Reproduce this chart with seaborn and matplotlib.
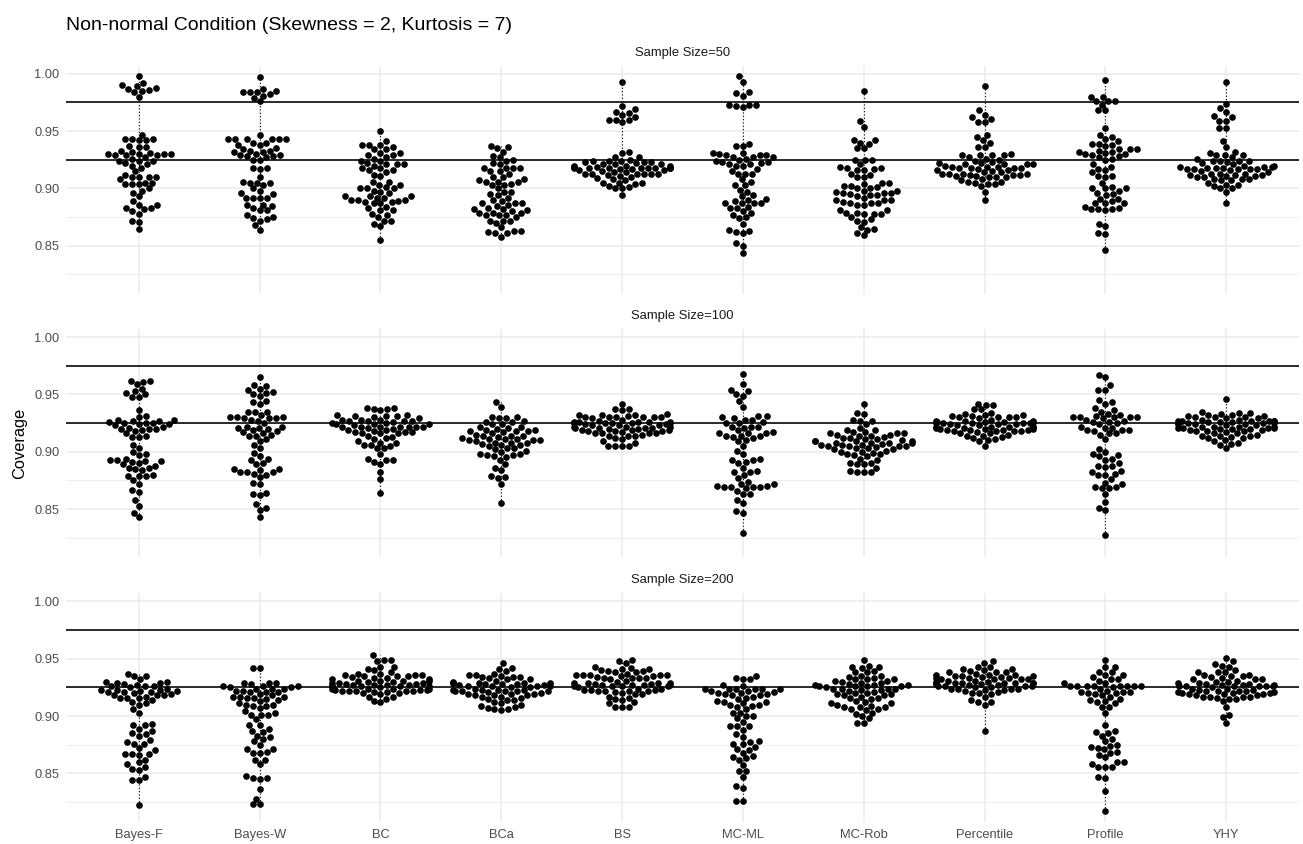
import warnings
import numpy as np
import pandas as pd
import seaborn as sns
import matplotlib.pyplot as plt

warnings.filterwarnings("ignore")

# ------------------------------- categories -------------------------------- #
methods = ["Bayes-F", "Bayes-W", "BC", "BCa", "BS", "MC-ML", "MC-Rob", "Percentile", "Profile", "YHY"]
sample_sizes = [50, 100, 200]
ref_lines = [0.925, 0.975]
y_ticks = [0.85, 0.90, 0.95, 1.00]
y_minor = [0.825, 0.875, 0.925, 0.975]

# ---------------------------- Sample Size = 50 ----------------------------- #
n50_bayes_f = [0.998, 0.986, 0.989, 0.990, 0.992, 0.984, 0.985, 0.980, 0.988, 0.987,
               0.947, 0.943, 0.943, 0.942, 0.942, 0.943, 0.937, 0.936, 0.936, 0.930, 0.931, 0.929, 0.930,
               0.932, 0.933, 0.930, 0.930, 0.929, 0.929, 0.924, 0.921, 0.924, 0.924, 0.927, 0.922, 0.920,
               0.918, 0.926, 0.915, 0.910, 0.910, 0.910, 0.904, 0.905, 0.905, 0.904, 0.908, 0.910, 0.904,
               0.912, 0.896, 0.900, 0.893, 0.889, 0.886, 0.882, 0.880, 0.883, 0.883, 0.886, 0.878, 0.872,
               0.871, 0.865, 0.898]
n50_bayes_w = [0.997, 0.979, 0.984, 0.985, 0.984, 0.982, 0.987, 0.984, 0.981, 0.976,
               0.947, 0.943, 0.943, 0.943, 0.943, 0.943, 0.943, 0.940, 0.938, 0.940, 0.938, 0.933, 0.932,
               0.934, 0.933, 0.935, 0.932, 0.927, 0.929, 0.928, 0.930, 0.925, 0.928, 0.929, 0.925, 0.918,
               0.917, 0.918, 0.910, 0.905, 0.906, 0.905, 0.905, 0.903, 0.900, 0.896, 0.895, 0.898, 0.892,
               0.892, 0.892, 0.892, 0.886, 0.885, 0.886, 0.883, 0.881, 0.881, 0.875, 0.873, 0.877, 0.874,
               0.872, 0.868, 0.864]
n50_bc = [0.950, 0.941, 0.938, 0.938, 0.936, 0.938, 0.934, 0.934, 0.931, 0.929, 0.924, 0.927, 0.920,
          0.922, 0.924, 0.921, 0.921, 0.929, 0.931, 0.918, 0.921, 0.916, 0.916, 0.906, 0.903, 0.900,
          0.901, 0.906, 0.900, 0.900, 0.903, 0.892, 0.893, 0.889, 0.893, 0.887, 0.888, 0.890, 0.897,
          0.888, 0.887, 0.890, 0.883, 0.881, 0.898, 0.892, 0.890, 0.893, 0.881, 0.878, 0.877, 0.875,
          0.867, 0.872, 0.869, 0.872, 0.855, 0.912, 0.918, 0.914, 0.896, 0.884, 0.911, 0.926]
n50_bca = [0.936, 0.937, 0.932, 0.935, 0.928, 0.927, 0.925, 0.922, 0.921, 0.918, 0.918, 0.915, 0.918,
           0.918, 0.915, 0.908, 0.910, 0.903, 0.906, 0.906, 0.906, 0.903, 0.910, 0.907, 0.904, 0.897,
           0.897, 0.890, 0.892, 0.882, 0.879, 0.875, 0.887, 0.885, 0.886, 0.877, 0.877, 0.877, 0.883,
           0.881, 0.887, 0.879, 0.879, 0.887, 0.880, 0.872, 0.870, 0.862, 0.863, 0.863, 0.861, 0.861,
           0.858, 0.872, 0.872, 0.866, 0.882, 0.895, 0.894, 0.900, 0.913, 0.924, 0.889]
n50_bs = [0.993, 0.972, 0.969, 0.967, 0.964, 0.958, 0.960, 0.960, 0.960, 0.966, 0.962,
          0.932, 0.931, 0.927, 0.927, 0.924, 0.925, 0.924, 0.924, 0.923, 0.923, 0.921, 0.923, 0.918,
          0.918, 0.918, 0.918, 0.918, 0.918, 0.918, 0.918, 0.917, 0.914, 0.913, 0.913, 0.913, 0.913,
          0.913, 0.913, 0.908, 0.910, 0.904, 0.905, 0.905, 0.905, 0.900, 0.900, 0.901, 0.894, 0.916,
          0.916, 0.919, 0.921, 0.920, 0.920, 0.922, 0.915, 0.912, 0.911, 0.917, 0.919, 0.914, 0.920,
          0.921, 0.909, 0.907, 0.902]
n50_mc_ml = [0.998, 0.993, 0.981, 0.983, 0.984, 0.973, 0.971, 0.973, 0.972, 0.973,
             0.939, 0.937, 0.937, 0.929, 0.927, 0.922, 0.927, 0.927, 0.929, 0.929, 0.931, 0.931, 0.930,
             0.921, 0.921, 0.925, 0.924, 0.920, 0.923, 0.923, 0.920, 0.913, 0.913, 0.917, 0.913, 0.903,
             0.897, 0.903, 0.906, 0.893, 0.894, 0.890, 0.887, 0.887, 0.884, 0.883, 0.883, 0.889, 0.887,
             0.891, 0.887, 0.879, 0.880, 0.874, 0.877, 0.875, 0.869, 0.863, 0.861, 0.864, 0.862, 0.850,
             0.852, 0.844, 0.915, 0.908, 0.899, 0.926]
n50_mc_rob = [0.985, 0.959, 0.954, 0.942, 0.940, 0.939, 0.935, 0.935, 0.925, 0.925, 0.925, 0.921, 0.918,
              0.918, 0.912, 0.916, 0.910, 0.913, 0.901, 0.896, 0.900, 0.894, 0.904, 0.898, 0.902, 0.896,
              0.896, 0.897, 0.886, 0.887, 0.888, 0.890, 0.887, 0.879, 0.879, 0.881, 0.878, 0.881, 0.875,
              0.871, 0.872, 0.866, 0.864, 0.861, 0.859, 0.886, 0.893, 0.942, 0.916, 0.910, 0.917, 0.919,
              0.905, 0.902, 0.895, 0.905, 0.898, 0.892, 0.900, 0.890, 0.887, 0.890, 0.878, 0.878, 0.873,
              0.865, 0.894]
n50_percentile = [0.989, 0.968, 0.964, 0.962, 0.961, 0.958, 0.958, 0.947, 0.945, 0.942, 0.940, 0.936,
                  0.936, 0.929, 0.929, 0.927, 0.929, 0.930, 0.929, 0.921, 0.921, 0.918, 0.918, 0.921,
                  0.921, 0.922, 0.925, 0.926, 0.919, 0.918, 0.918, 0.922, 0.919, 0.916, 0.910, 0.912,
                  0.914, 0.914, 0.913, 0.916, 0.913, 0.911, 0.913, 0.912, 0.911, 0.913, 0.910, 0.906,
                  0.910, 0.904, 0.906, 0.905, 0.904, 0.907, 0.897, 0.890, 0.912, 0.917, 0.915, 0.920,
                  0.923, 0.919, 0.908, 0.902, 0.924]
n50_profile = [0.995, 0.980, 0.980, 0.976, 0.976, 0.976, 0.973, 0.968, 0.968, 0.953, 0.945, 0.947, 0.934,
               0.938, 0.931, 0.941, 0.932, 0.934, 0.930, 0.932, 0.933, 0.929, 0.939, 0.943, 0.939, 0.930,
               0.937, 0.934, 0.927, 0.925, 0.926, 0.917, 0.916, 0.919, 0.910, 0.911, 0.911, 0.901, 0.896,
               0.900, 0.900, 0.900, 0.898, 0.891, 0.894, 0.895, 0.891, 0.887, 0.887, 0.887, 0.882, 0.881,
               0.882, 0.884, 0.883, 0.882, 0.867, 0.869, 0.860, 0.861, 0.846, 0.921, 0.905, 0.889, 0.928,
               0.914]
n50_yhy = [0.993, 0.974, 0.970, 0.967, 0.963, 0.962, 0.959, 0.959, 0.953, 0.953, 0.941, 0.936, 0.932,
           0.929, 0.929, 0.931, 0.929, 0.924, 0.922, 0.924, 0.927, 0.924, 0.923, 0.924, 0.918, 0.920,
           0.917, 0.918, 0.917, 0.919, 0.917, 0.917, 0.918, 0.917, 0.919, 0.913, 0.912, 0.913, 0.910,
           0.912, 0.913, 0.912, 0.911, 0.907, 0.908, 0.910, 0.908, 0.908, 0.907, 0.903, 0.903, 0.900,
           0.897, 0.902, 0.900, 0.887, 0.921, 0.916, 0.915, 0.920, 0.914, 0.926, 0.905, 0.911, 0.919]

# ---------------------------- Sample Size = 100 ---------------------------- #
n100_bayes_f = [0.961, 0.962, 0.962, 0.955, 0.959, 0.953, 0.948, 0.948, 0.951, 0.950, 0.936, 0.930,
                0.924, 0.926, 0.920, 0.927, 0.928, 0.914, 0.920, 0.918, 0.925, 0.923, 0.924, 0.921,
                0.928, 0.925, 0.922, 0.919, 0.925, 0.913, 0.927, 0.920, 0.913, 0.906, 0.903, 0.894,
                0.898, 0.893, 0.892, 0.897, 0.886, 0.886, 0.889, 0.880, 0.875, 0.879, 0.885, 0.884,
                0.892, 0.879, 0.879, 0.890, 0.891, 0.893, 0.872, 0.865, 0.867, 0.858, 0.853, 0.847,
                0.843, 0.931, 0.916, 0.900, 0.888]
n100_bayes_w = [0.965, 0.957, 0.955, 0.958, 0.954, 0.949, 0.951, 0.950, 0.952, 0.944, 0.942, 0.943,
                0.935, 0.935, 0.916, 0.929, 0.930, 0.921, 0.922, 0.928, 0.929, 0.930, 0.925, 0.929,
                0.932, 0.927, 0.935, 0.930, 0.921, 0.918, 0.922, 0.919, 0.920, 0.915, 0.914, 0.914,
                0.906, 0.903, 0.909, 0.899, 0.894, 0.890, 0.893, 0.889, 0.882, 0.884, 0.882, 0.885,
                0.880, 0.885, 0.882, 0.881, 0.873, 0.872, 0.863, 0.862, 0.864, 0.854, 0.849, 0.851,
                0.843, 0.917, 0.896, 0.878, 0.911]
n100_bc = [0.938, 0.938, 0.937, 0.937, 0.936, 0.932, 0.932, 0.931, 0.931, 0.931, 0.928, 0.927, 0.927,
           0.928, 0.927, 0.930, 0.928, 0.922, 0.923, 0.922, 0.922, 0.922, 0.922, 0.922, 0.924, 0.924,
           0.925, 0.924, 0.917, 0.922, 0.919, 0.916, 0.916, 0.917, 0.917, 0.916, 0.918, 0.912, 0.911,
           0.909, 0.908, 0.906, 0.906, 0.908, 0.903, 0.903, 0.894, 0.893, 0.893, 0.898, 0.889, 0.891,
           0.876, 0.882, 0.864, 0.914, 0.927, 0.905, 0.920, 0.926, 0.921, 0.925, 0.919, 0.913, 0.929]
n100_bca = [0.943, 0.939, 0.926, 0.922, 0.927, 0.929, 0.930, 0.929, 0.924, 0.926, 0.930, 0.924, 0.922,
            0.920, 0.914, 0.908, 0.905, 0.900, 0.919, 0.914, 0.918, 0.911, 0.903, 0.911, 0.908, 0.910,
            0.907, 0.906, 0.911, 0.916, 0.909, 0.910, 0.917, 0.914, 0.908, 0.903, 0.896, 0.901, 0.893,
            0.897, 0.897, 0.898, 0.898, 0.884, 0.878, 0.877, 0.879, 0.872, 0.886, 0.855, 0.918, 0.918,
            0.915, 0.921, 0.902, 0.912, 0.906, 0.919, 0.889, 0.910, 0.895, 0.913]
n100_bs = [0.942, 0.936, 0.937, 0.937, 0.933, 0.930, 0.932, 0.930, 0.931, 0.930, 0.930, 0.932, 0.930,
           0.930, 0.932, 0.929, 0.919, 0.916, 0.919, 0.922, 0.925, 0.925, 0.926, 0.923, 0.925, 0.924,
           0.925, 0.922, 0.923, 0.925, 0.921, 0.921, 0.916, 0.918, 0.918, 0.920, 0.916, 0.919, 0.916,
           0.915, 0.917, 0.911, 0.908, 0.909, 0.905, 0.905, 0.905, 0.905, 0.914, 0.921, 0.921, 0.926,
           0.918, 0.914, 0.914, 0.912, 0.926, 0.922, 0.926, 0.926, 0.928, 0.927, 0.924, 0.923, 0.920]
n100_mc_ml = [0.968, 0.959, 0.953, 0.950, 0.954, 0.949, 0.944, 0.939, 0.931, 0.931, 0.925, 0.922, 0.922,
              0.929, 0.928, 0.925, 0.926, 0.930, 0.928, 0.919, 0.922, 0.916, 0.912, 0.916, 0.914, 0.913,
              0.917, 0.914, 0.909, 0.916, 0.914, 0.905, 0.901, 0.891, 0.894, 0.893, 0.893, 0.890, 0.883,
              0.880, 0.882, 0.882, 0.872, 0.869, 0.870, 0.863, 0.869, 0.870, 0.868, 0.874, 0.863, 0.869,
              0.869, 0.866, 0.872, 0.858, 0.855, 0.847, 0.848, 0.829, 0.921, 0.898, 0.910, 0.886, 0.877]
n100_mc_rob = [0.942, 0.933, 0.927, 0.927, 0.919, 0.916, 0.917, 0.914, 0.906, 0.917, 0.908, 0.908, 0.905,
               0.900, 0.899, 0.905, 0.903, 0.906, 0.914, 0.908, 0.909, 0.902, 0.890, 0.889, 0.886, 0.882,
               0.882, 0.883, 0.882, 0.912, 0.909, 0.916, 0.916, 0.915, 0.909, 0.908, 0.905, 0.901, 0.898,
               0.909, 0.902, 0.896, 0.900, 0.919, 0.934, 0.928, 0.905, 0.890, 0.889, 0.911, 0.913, 0.907,
               0.904, 0.910, 0.912, 0.903, 0.898, 0.894, 0.921, 0.924, 0.911, 0.906, 0.893, 0.897, 0.915]
n100_percentile = [0.942, 0.941, 0.941, 0.937, 0.937, 0.932, 0.930, 0.930, 0.931, 0.930, 0.932, 0.930,
                   0.926, 0.925, 0.927, 0.927, 0.925, 0.926, 0.926, 0.925, 0.926, 0.927, 0.925, 0.919,
                   0.922, 0.918, 0.919, 0.920, 0.921, 0.922, 0.919, 0.920, 0.922, 0.914, 0.909, 0.905,
                   0.914, 0.911, 0.912, 0.916, 0.918, 0.924, 0.922, 0.922, 0.925, 0.924, 0.916, 0.918,
                   0.933, 0.923, 0.921, 0.919, 0.917, 0.920, 0.924, 0.928, 0.929, 0.926, 0.923, 0.913,
                   0.915, 0.910, 0.931, 0.934, 0.918]
n100_profile = [0.967, 0.965, 0.958, 0.954, 0.954, 0.945, 0.943, 0.938, 0.942, 0.935, 0.932, 0.936,
                0.930, 0.926, 0.930, 0.926, 0.928, 0.931, 0.930, 0.930, 0.930, 0.929, 0.924, 0.927,
                0.919, 0.921, 0.922, 0.919, 0.919, 0.916, 0.916, 0.918, 0.911, 0.902, 0.898, 0.897,
                0.893, 0.896, 0.890, 0.887, 0.888, 0.883, 0.881, 0.882, 0.888, 0.880, 0.880, 0.869,
                0.868, 0.872, 0.868, 0.869, 0.873, 0.863, 0.856, 0.849, 0.851, 0.827, 0.925, 0.921,
                0.894, 0.876, 0.915, 0.900, 0.933]
n100_yhy = [0.946, 0.935, 0.934, 0.934, 0.932, 0.932, 0.930, 0.931, 0.930, 0.930, 0.929, 0.927, 0.927,
            0.925, 0.928, 0.926, 0.927, 0.926, 0.927, 0.925, 0.925, 0.927, 0.924, 0.922, 0.918, 0.921,
            0.920, 0.922, 0.921, 0.920, 0.922, 0.921, 0.919, 0.918, 0.914, 0.915, 0.912, 0.916, 0.912,
            0.914, 0.914, 0.908, 0.907, 0.903, 0.906, 0.925, 0.924, 0.923, 0.923, 0.922, 0.921, 0.920,
            0.919, 0.918, 0.917, 0.928, 0.929, 0.926, 0.924, 0.916, 0.913, 0.910, 0.909, 0.931, 0.927,
            0.933]

# ---------------------------- Sample Size = 200 ---------------------------- #
n200_bayes_f = [0.937, 0.935, 0.935, 0.930, 0.932, 0.929, 0.929, 0.926, 0.926, 0.926, 0.927, 0.930,
                0.921, 0.918, 0.918, 0.918, 0.916, 0.923, 0.921, 0.922, 0.916, 0.923, 0.922, 0.916,
                0.921, 0.923, 0.924, 0.919, 0.917, 0.911, 0.914, 0.910, 0.912, 0.906, 0.903, 0.892,
                0.892, 0.893, 0.887, 0.884, 0.885, 0.883, 0.879, 0.877, 0.876, 0.876, 0.872, 0.867,
                0.867, 0.867, 0.866, 0.862, 0.860, 0.856, 0.858, 0.854, 0.853, 0.847, 0.844, 0.844,
                0.822, 0.925, 0.920, 0.928, 0.889, 0.870]
n200_bayes_w = [0.942, 0.942, 0.926, 0.924, 0.928, 0.929, 0.924, 0.925, 0.926, 0.929, 0.929, 0.926,
                0.925, 0.921, 0.921, 0.924, 0.922, 0.922, 0.921, 0.917, 0.911, 0.916, 0.909, 0.917,
                0.919, 0.915, 0.917, 0.914, 0.916, 0.910, 0.909, 0.910, 0.907, 0.901, 0.901, 0.901,
                0.904, 0.897, 0.892, 0.892, 0.886, 0.883, 0.882, 0.887, 0.878, 0.875, 0.871, 0.869,
                0.868, 0.871, 0.868, 0.862, 0.862, 0.858, 0.846, 0.846, 0.848, 0.845, 0.836, 0.828,
                0.823, 0.823, 0.918, 0.913, 0.889, 0.880, 0.903]
n200_bc = [0.953, 0.948, 0.949, 0.949, 0.943, 0.943, 0.940, 0.941, 0.937, 0.936, 0.938, 0.936, 0.935,
           0.936, 0.937, 0.935, 0.932, 0.933, 0.935, 0.933, 0.932, 0.931, 0.931, 0.929, 0.924, 0.927,
           0.926, 0.926, 0.928, 0.927, 0.926, 0.926, 0.927, 0.926, 0.924, 0.929, 0.922, 0.923, 0.922,
           0.922, 0.922, 0.922, 0.921, 0.920, 0.917, 0.919, 0.915, 0.913, 0.912, 0.917, 0.920, 0.923,
           0.930, 0.931, 0.930, 0.923, 0.924, 0.934, 0.929, 0.927, 0.925, 0.924, 0.921, 0.928, 0.931]
n200_bca = [0.946, 0.941, 0.942, 0.939, 0.936, 0.936, 0.934, 0.932, 0.935, 0.932, 0.934, 0.937, 0.934,
            0.931, 0.929, 0.929, 0.925, 0.927, 0.928, 0.926, 0.929, 0.929, 0.929, 0.926, 0.926, 0.928,
            0.926, 0.923, 0.923, 0.923, 0.922, 0.922, 0.922, 0.923, 0.922, 0.922, 0.918, 0.919, 0.916,
            0.918, 0.919, 0.914, 0.917, 0.918, 0.917, 0.911, 0.910, 0.907, 0.906, 0.908, 0.906, 0.905,
            0.909, 0.914, 0.930, 0.924, 0.921, 0.920, 0.927, 0.915, 0.912, 0.933, 0.925, 0.919, 0.928]
n200_bs = [0.949, 0.948, 0.946, 0.942, 0.943, 0.940, 0.939, 0.938, 0.941, 0.941, 0.938, 0.936, 0.935,
           0.933, 0.936, 0.936, 0.933, 0.935, 0.932, 0.936, 0.936, 0.933, 0.928, 0.926, 0.929, 0.926,
           0.928, 0.926, 0.929, 0.927, 0.929, 0.927, 0.929, 0.926, 0.927, 0.933, 0.923, 0.922, 0.922,
           0.923, 0.922, 0.924, 0.923, 0.922, 0.919, 0.916, 0.914, 0.915, 0.919, 0.911, 0.908, 0.908,
           0.908, 0.920, 0.931, 0.930, 0.925, 0.924, 0.921, 0.927, 0.934, 0.937, 0.917, 0.912, 0.939]
n200_mc_ml = [0.932, 0.933, 0.935, 0.932, 0.917, 0.924, 0.924, 0.927, 0.922, 0.919, 0.924, 0.920, 0.919,
              0.926, 0.924, 0.924, 0.922, 0.924, 0.916, 0.920, 0.911, 0.912, 0.915, 0.913, 0.912, 0.910,
              0.910, 0.908, 0.918, 0.903, 0.900, 0.903, 0.900, 0.895, 0.891, 0.891, 0.891, 0.884, 0.882,
              0.878, 0.877, 0.876, 0.876, 0.871, 0.870, 0.865, 0.868, 0.863, 0.862, 0.864, 0.852, 0.852,
              0.847, 0.839, 0.837, 0.826, 0.826, 0.898, 0.921, 0.918, 0.909, 0.906, 0.888, 0.873, 0.857]
n200_mc_rob = [0.949, 0.944, 0.943, 0.938, 0.938, 0.935, 0.942, 0.932, 0.931, 0.922, 0.926, 0.924, 0.927,
               0.926, 0.929, 0.930, 0.931, 0.927, 0.926, 0.920, 0.916, 0.908, 0.911, 0.906, 0.903, 0.909,
               0.916, 0.919, 0.908, 0.898, 0.894, 0.917, 0.939, 0.932, 0.927, 0.932, 0.923, 0.935, 0.924,
               0.924, 0.918, 0.911, 0.919, 0.908, 0.906, 0.900, 0.894, 0.943, 0.934, 0.925, 0.921, 0.928,
               0.913, 0.915, 0.920, 0.923, 0.910, 0.933, 0.929, 0.918, 0.905, 0.926, 0.902, 0.912, 0.924]
n200_percentile = [0.948, 0.946, 0.943, 0.943, 0.941, 0.941, 0.939, 0.938, 0.938, 0.936, 0.936, 0.938,
                   0.935, 0.934, 0.935, 0.933, 0.932, 0.933, 0.935, 0.932, 0.932, 0.932, 0.929, 0.929,
                   0.929, 0.929, 0.929, 0.929, 0.929, 0.924, 0.923, 0.926, 0.924, 0.924, 0.925, 0.924,
                   0.926, 0.927, 0.920, 0.922, 0.920, 0.921, 0.917, 0.912, 0.910, 0.914, 0.912, 0.887,
                   0.926, 0.930, 0.931, 0.933, 0.928, 0.927, 0.925, 0.930, 0.936, 0.934, 0.931, 0.926,
                   0.919, 0.937, 0.940, 0.928, 0.923]
n200_profile = [0.949, 0.943, 0.943, 0.936, 0.936, 0.938, 0.938, 0.932, 0.934, 0.932, 0.926, 0.929,
                0.926, 0.926, 0.925, 0.926, 0.926, 0.926, 0.926, 0.919, 0.921, 0.917, 0.920, 0.922,
                0.921, 0.921, 0.920, 0.914, 0.908, 0.911, 0.912, 0.913, 0.915, 0.908, 0.903, 0.929,
                0.926, 0.892, 0.887, 0.885, 0.886, 0.880, 0.878, 0.875, 0.874, 0.871, 0.873, 0.869,
                0.872, 0.866, 0.860, 0.858, 0.864, 0.860, 0.856, 0.856, 0.856, 0.847, 0.846, 0.835,
                0.817, 0.924, 0.918, 0.931, 0.883, 0.868]
n200_yhy = [0.951, 0.948, 0.945, 0.944, 0.943, 0.938, 0.936, 0.938, 0.936, 0.938, 0.932, 0.935, 0.932,
            0.930, 0.932, 0.931, 0.934, 0.926, 0.926, 0.926, 0.926, 0.927, 0.929, 0.927, 0.926, 0.928,
            0.917, 0.920, 0.919, 0.917, 0.922, 0.921, 0.919, 0.922, 0.920, 0.922, 0.917, 0.918, 0.923,
            0.919, 0.915, 0.915, 0.908, 0.901, 0.899, 0.894, 0.917, 0.924, 0.922, 0.925, 0.924, 0.923,
            0.921, 0.920, 0.929, 0.930, 0.928, 0.933, 0.916, 0.940, 0.927, 0.918, 0.913, 0.935, 0.926]

panel_50 = [n50_bayes_f, n50_bayes_w, n50_bc, n50_bca, n50_bs, n50_mc_ml, n50_mc_rob, n50_percentile, n50_profile, n50_yhy]
panel_100 = [n100_bayes_f, n100_bayes_w, n100_bc, n100_bca, n100_bs, n100_mc_ml, n100_mc_rob, n100_percentile, n100_profile, n100_yhy]
panel_200 = [n200_bayes_f, n200_bayes_w, n200_bc, n200_bca, n200_bs, n200_mc_ml, n200_mc_rob, n200_percentile, n200_profile, n200_yhy]


def build_df():
    rows = []
    for n, panel in zip(sample_sizes, [panel_50, panel_100, panel_200]):
        for method, values in zip(methods, panel):
            for v in values:
                rows.append({"n": n, "method": method, "Coverage": v})
    return pd.DataFrame(rows)


df = build_df()

# ------------------------------- style ------------------------------------- #
sns.set_theme(style="white")
plt.rcParams["font.family"] = ["Liberation Sans", "DejaVu Sans"]

W, H = 1303, 844
fig = plt.figure(figsize=(W / 100, H / 100), dpi=100)

# panel boxes in pixels
px_left, px_right = 66.4, 1298.6
panel_tops = [65.7, 329.0, 593.3]
panel_h = 228.3

# ggplot-like 5% expansion of the shared y scale
lo, hi = df["Coverage"].min(), df["Coverage"].max()
pad = (hi - lo) * 0.05
ylim = (lo - pad, hi + pad)

for i, n in enumerate(sample_sizes):
    top = panel_tops[i]
    ax = fig.add_axes([px_left / W, 1 - (top + panel_h) / H, (px_right - px_left) / W, panel_h / H])
    sub = df[df["n"] == n]

    # dotted range line at each category center
    rng = sub.groupby("method")["Coverage"].agg(["min", "max"]).reindex(methods)
    ax.vlines(np.arange(len(methods)), rng["min"], rng["max"], colors="black",
              linestyles=(0, (1, 2)), linewidth=0.8, zorder=1)

    sns.swarmplot(data=sub, x="method", y="Coverage", order=methods, color="black",
                  size=4.8, linewidth=0, ax=ax, zorder=3)

    for r in ref_lines:
        ax.axhline(r, color="#1a1a1a", linewidth=1.3, zorder=2)

    ax.set_xlim(-0.6, len(methods) - 0.4)
    ax.set_ylim(*ylim)
    ax.set_yticks(y_ticks)
    ax.set_yticks(y_minor, minor=True)
    ax.set_yticklabels([f"{t:.2f}" for t in y_ticks])
    ax.grid(True, which="major", color="#EBEBEB", linewidth=1.1)
    ax.grid(True, which="minor", axis="y", color="#EBEBEB", linewidth=0.6)
    ax.set_axisbelow(True)
    for s in ax.spines.values():
        s.set_visible(False)
    ax.tick_params(axis="both", which="both", length=0, colors="#4D4D4D", labelsize=9.3)
    ax.tick_params(axis="y", pad=5)
    ax.tick_params(axis="x", pad=5.5)
    ax.set_xlabel("")
    ax.set_ylabel("")
    if i < 2:
        ax.set_xticklabels([])

    ax.text(0.5, 1 + 12.8 / panel_h, f"Sample Size={n}", transform=ax.transAxes,
            ha="center", va="center", fontsize=9.4, color="#1A1A1A")

fig.text(px_left / W, 1 - 25 / H, "Non-normal Condition (Skewness = 2, Kurtosis = 7)",
         ha="left", va="center", fontsize=14, color="black")
fig.text(20 / W, 1 - 443.7 / H, "Coverage", rotation=90, ha="center", va="center",
         fontsize=11.8, color="black")

fig.savefig("out.png", dpi=100)
